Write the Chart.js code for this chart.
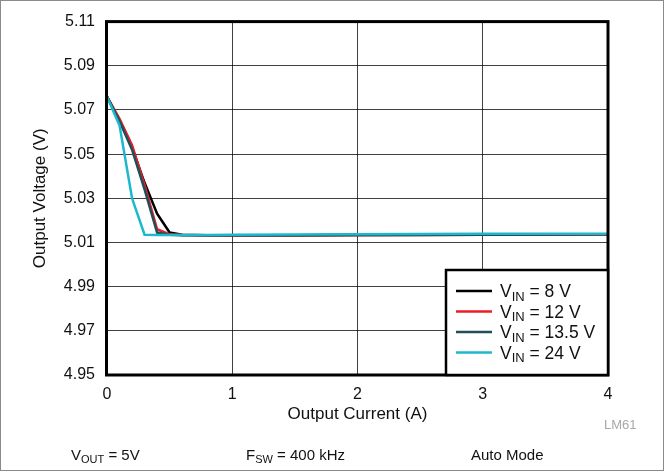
<!DOCTYPE html>
<html>
<head>
<meta charset="utf-8">
<script src="https://cdn.jsdelivr.net/npm/chart.js@4.4.1/dist/chart.umd.min.js"></script>
<style>
  html, body { margin: 0; padding: 0; background: #fff; }
  #wrap { position: relative; width: 664px; height: 471px; overflow: hidden; }
  #frame { position: absolute; left: 0; top: 0; width: 662px; height: 469px; border: 1px solid #8a8a8a; pointer-events: none; }
  canvas { position: absolute; left: 0; top: 0; }
  .note { position: absolute; font-family: "Liberation Sans", Arial, sans-serif; font-size: 15px; color: #111; white-space: nowrap; line-height: 18px; }
  .note sub { font-size: 11px; vertical-align: -3px; line-height: 0; }
  #code { color: #a8a8a8; font-size: 13px; }
</style>
</head>
<body>
<div id="wrap">
  <canvas id="c" width="664" height="471"></canvas>
  <div id="frame"></div>
  <div class="note" style="left:71px; top:446px;">V<sub>OUT</sub> = 5V</div>
  <div class="note" style="left:246px; top:446px;">F<sub>SW</sub> = 400 kHz</div>
  <div class="note" style="left:471px; top:446px;">Auto Mode</div>
  <div class="note" id="code" style="left:604px; top:416px;">LM61</div>
</div>
<script>
// ---- data ----
const currents = [0, 0.1, 0.2, 0.3, 0.4, 0.5, 0.6, 0.8, 1.0, 1.5, 2.0, 2.5, 3.0, 3.5, 4.0];
const vin8    = [5.076, 5.065, 5.053, 5.037, 5.023, 5.0145, 5.0135, 5.0133, 5.0133, 5.0133, 5.0134, 5.0135, 5.0135, 5.0136, 5.0137];
const vin12   = [5.076, 5.066, 5.054, 5.036, 5.016, 5.0137, 5.0134, 5.0133, 5.0133, 5.0133, 5.0134, 5.0134, 5.0135, 5.0136, 5.0137];
const vin13_5 = [5.076, 5.065, 5.052, 5.034, 5.0145, 5.0135, 5.0133, 5.0133, 5.0133, 5.0133, 5.0134, 5.0134, 5.0135, 5.0136, 5.0137];
const vin24   = [5.076, 5.063, 5.030, 5.0135, 5.0134, 5.0134, 5.0134, 5.0134, 5.0135, 5.0136, 5.0137, 5.0138, 5.0139, 5.0140, 5.0140];
const seriesLabels = ["8 V", "12 V", "13.5 V", "24 V"];
const xTicks = [0, 1, 2, 3, 4];
const yTicks = [4.95, 4.97, 4.99, 5.01, 5.03, 5.05, 5.07, 5.09, 5.11];

const FONT = '"Liberation Sans", Arial, sans-serif';
const colors = ["#000000", "#ee1c24", "#1f4e5c", "#1cb8cc"];
const seriesData = [vin8, vin12, vin13_5, vin24];

const toXY = arr => currents.map((x, i) => ({ x: x, y: arr[i] }));

// datasets: draw order so that cyan is on top (index 0 drawn last)
const datasets = [3, 2, 1, 0].map(k => ({
  label: seriesLabels[k],
  data: toXY(seriesData[k]),
  borderColor: colors[k],
  backgroundColor: colors[k],
  borderWidth: 2.5,
  pointRadius: 0,
  tension: 0
}));

const framePlugin = {
  id: 'frameAndLegend',
  afterDatasetsDraw(chart) {
    const { ctx, chartArea: a } = chart;
    ctx.save();
    // plot frame
    ctx.strokeStyle = '#000';
    ctx.lineWidth = 3;
    ctx.strokeRect(a.left - 0.5, a.top, a.right - a.left + 0.5, a.bottom - a.top);
    // legend box
    const lx = 446, ly = 270, lr = a.right, lb = a.bottom;
    ctx.fillStyle = '#fff';
    ctx.fillRect(lx, ly, lr - lx, lb - ly);
    ctx.lineWidth = 2.5;
    ctx.strokeRect(lx, ly, lr - lx, lb - ly);
    const rowY = [291, 311.5, 332, 352.5];
    for (let k = 0; k < 4; k++) {
      const y = rowY[k];
      ctx.strokeStyle = colors[k];
      ctx.lineWidth = 2.5;
      ctx.beginPath();
      ctx.moveTo(456, y);
      ctx.lineTo(492, y);
      ctx.stroke();
      ctx.fillStyle = '#111';
      ctx.textBaseline = 'alphabetic';
      ctx.font = '17.5px ' + FONT;
      let x = 500;
      ctx.fillText('V', x, y + 6);
      x += ctx.measureText('V').width;
      ctx.font = '13px ' + FONT;
      ctx.fillText('IN', x, y + 9.5);
      x += ctx.measureText('IN').width;
      ctx.font = '17.5px ' + FONT;
      ctx.fillText(' = ' + seriesLabels[k], x, y + 6);
    }
    ctx.restore();
  }
};

new Chart(document.getElementById('c'), {
  type: 'line',
  data: { datasets },
  options: {
    responsive: false,
    animation: false,
    devicePixelRatio: 1,
    layout: { padding: { left: 0, top: 21, right: 56, bottom: 46 } },
    plugins: { legend: { display: false }, tooltip: { enabled: false } },
    scales: {
      x: {
        type: 'linear',
        min: 0, max: 4,
        afterBuildTicks: s => { s.ticks = xTicks.map(v => ({ value: v })); },
        afterFit: s => { s.height = 50; },
        ticks: { color: '#111', font: { family: FONT, size: 16 }, padding: 10, callback: v => String(v) },
        grid: { color: 'rgba(0,0,0,0.75)', lineWidth: 1, drawTicks: false },
        border: { display: false },
        title: { display: true, text: 'Output Current (A)', color: '#111', font: { family: FONT, size: 17 }, padding: { top: 0, bottom: 0 } }
      },
      y: {
        type: 'linear',
        min: 4.95, max: 5.11,
        afterBuildTicks: s => { s.ticks = yTicks.map(v => ({ value: v })); },
        afterFit: s => { s.width = 107; },
        ticks: { color: '#111', font: { family: FONT, size: 16 }, padding: 12, callback: v => Number(v).toFixed(2) },
        grid: { color: 'rgba(0,0,0,0.75)', lineWidth: 1, drawTicks: false },
        border: { display: false },
        title: { display: true, text: 'Output Voltage (V)', color: '#111', font: { family: FONT, size: 17 }, padding: { top: 30, bottom: 0 } }
      }
    }
  },
  plugins: [framePlugin]
});
</script>
</body>
</html>
